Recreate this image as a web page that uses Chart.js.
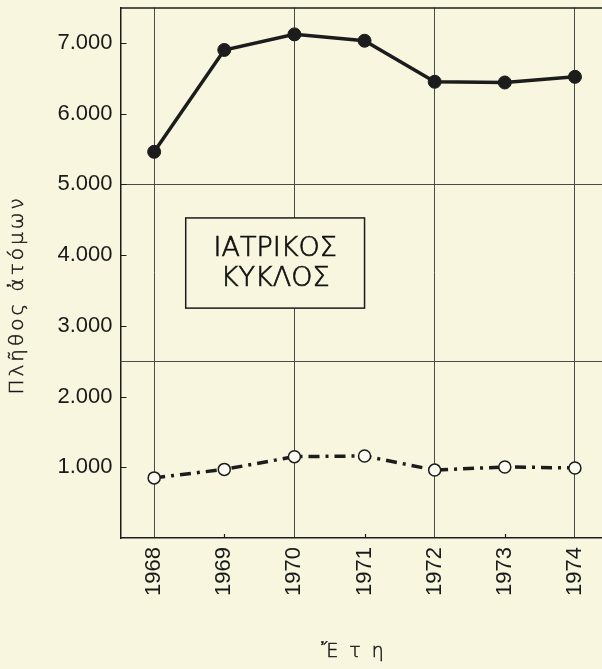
<!DOCTYPE html>
<html>
<head>
<meta charset="utf-8">
<script src="https://cdn.jsdelivr.net/npm/chart.js@4"></script>
<style>
html, body { margin: 0; padding: 0; background: #f8f6df; overflow: hidden; width: 602px; height: 669px; }
#wrap { position: absolute; left: 0; top: 0; width: 640px; height: 669px; }
</style>
</head>
<body>
<div id="wrap"><canvas id="c" width="640" height="669"></canvas></div>
<script>
// ---- data ----
const years = [1968, 1969, 1970, 1971, 1972, 1973, 1974];
const medicalCircle = [5460, 6900, 7120, 7030, 6450, 6440, 6520];
const lowerSeries = [850, 970, 1150, 1160, 960, 1005, 990];
const yTickValues = [1000, 2000, 3000, 4000, 5000, 6000, 7000];
const gridYears = [1968, 1970, 1972, 1974];
const gridValues = [2500, 5000];
const yTitle = 'Πλῆθος ἀτόμων';
const xTitle = 'Ἔτη';
const boxLines = ['ΙΑΤΡΙΚΟΣ', 'ΚΥΚΛΟΣ'];
const boxRange = { x0: 1968.45, x1: 1971.0, y0: 3250, y1: 4525 };

const BG = '#f8f6df';
const INK = '#1c1c1c';
const TEXT = '#1a1a1a';

const toPoints = arr => years.map((yr, i) => ({ x: yr, y: arr[i] }));

function letter(ctx, text, x, y, stroke) {
  ctx.fillText(text, x, y);
  ctx.lineWidth = stroke;
  ctx.strokeText(text, x, y);
}

const decor = {
  id: 'decor',
  beforeDatasetsDraw(chart) {
    const { ctx, chartArea: a, scales: { x, y } } = chart;
    ctx.save();
    // horizontal grid lines
    ctx.strokeStyle = '#4a4a4a';
    ctx.lineWidth = 1;
    gridValues.forEach(v => {
      const py = Math.round(y.getPixelForValue(v)) + 0.5;
      ctx.beginPath(); ctx.moveTo(a.left, py); ctx.lineTo(a.right, py); ctx.stroke();
    });
    // inward tick marks
    ctx.strokeStyle = INK;
    ctx.lineWidth = 1.2;
    ctx.beginPath();
    y.ticks.forEach(t => {
      const py = Math.round(y.getPixelForValue(t.value)) + 0.5;
      ctx.moveTo(a.left, py); ctx.lineTo(a.left + 6, py);
    });
    x.ticks.forEach(t => {
      if (gridYears.includes(t.value)) return;
      const px = Math.round(x.getPixelForValue(t.value)) + 0.5;
      ctx.moveTo(px, a.bottom); ctx.lineTo(px, a.bottom - 4);
    });
    ctx.stroke();
    // top border
    ctx.lineWidth = 1.3;
    ctx.beginPath(); ctx.moveTo(a.left, a.top + 0.5); ctx.lineTo(a.right, a.top + 0.5); ctx.stroke();
    // label box
    const bx0 = x.getPixelForValue(boxRange.x0), bx1 = x.getPixelForValue(boxRange.x1);
    const by0 = y.getPixelForValue(boxRange.y1), by1 = y.getPixelForValue(boxRange.y0);
    ctx.fillStyle = BG;
    ctx.fillRect(bx0, by0, bx1 - bx0, by1 - by0);
    ctx.lineWidth = 1.5;
    ctx.strokeStyle = INK;
    ctx.strokeRect(bx0, by0, bx1 - bx0, by1 - by0);
    ctx.fillStyle = '#111';
    ctx.strokeStyle = '#111';
    ctx.font = '200 27px "DejaVu Sans"';
    ctx.textAlign = 'center';
    ctx.textBaseline = 'middle';
    const cx = (bx0 + bx1) / 2, cy = (by0 + by1) / 2;
    letter(ctx, boxLines[0], cx, cy - 14, 0.7);
    letter(ctx, boxLines[1], cx, cy + 16, 0.7);
    ctx.restore();
  },
  afterDraw(chart) {
    const { ctx } = chart;
    ctx.save();
    ctx.fillStyle = '#1a1a1a';
    ctx.strokeStyle = '#1a1a1a';
    ctx.textAlign = 'center';
    ctx.textBaseline = 'middle';
    // y axis title
    ctx.font = '200 20px "DejaVu Sans"';
    if ('letterSpacing' in ctx) ctx.letterSpacing = '3px';
    ctx.translate(17.5, 295);
    ctx.rotate(-Math.PI / 2);
    letter(ctx, yTitle, 0, 0, 0.5);
    ctx.setTransform(1, 0, 0, 1, 0, 0);
    // x axis title
    ctx.font = '200 19px "DejaVu Sans"';
    if ('letterSpacing' in ctx) ctx.letterSpacing = '11px';
    letter(ctx, xTitle, 358, 652, 0.5);
    ctx.restore();
  }
};

new Chart(document.getElementById('c'), {
  type: 'line',
  data: {
    datasets: [
      {
        label: 'ΙΑΤΡΙΚΟΣ ΚΥΚΛΟΣ',
        data: toPoints(medicalCircle),
        borderColor: INK,
        borderWidth: 3.5,
        pointRadius: 6.5,
        pointBackgroundColor: INK,
        pointBorderColor: INK,
        pointBorderWidth: 1,
        tension: 0
      },
      {
        label: 'lower',
        data: toPoints(lowerSeries),
        borderColor: INK,
        borderWidth: 3.5,
        borderDash: [11, 6, 3, 6],
        pointRadius: 6,
        pointBackgroundColor: '#fcfbf2',
        pointBorderColor: INK,
        pointBorderWidth: 1.5,
        tension: 0
      }
    ]
  },
  options: {
    responsive: false,
    animation: false,
    devicePixelRatio: 1,
    layout: { padding: { top: 6, right: 30, bottom: 0, left: 0 } },
    plugins: { legend: { display: false }, tooltip: { enabled: false } },
    scales: {
      x: {
        type: 'linear',
        bounds: 'data',
        min: 1967.52,
        max: 1974.5,
        afterFit(s) { s.height = 131; s.paddingLeft = 0; s.paddingRight = 0; },
        afterBuildTicks(s) { s.ticks = years.map(v => ({ value: v })); },
        grid: {
          drawTicks: false,
          color: c => (c.tick && gridYears.includes(c.tick.value)) ? '#4a4a4a' : 'rgba(0,0,0,0)',
          lineWidth: 1
        },
        border: { display: true, color: INK, width: 1.5 },
        ticks: {
          autoSkip: false,
          minRotation: 90,
          maxRotation: 90,
          padding: 9,
          color: TEXT,
          font: { family: '"Liberation Sans", Arial, sans-serif', size: 22 },
          callback: v => String(v)
        }
      },
      y: {
        type: 'linear',
        bounds: 'data',
        min: 0,
        max: 7500,
        afterFit(s) { s.width = 120.5; s.paddingTop = 0; s.paddingBottom = 0; },
        afterBuildTicks(s) { s.ticks = yTickValues.map(v => ({ value: v })); },
        grid: { display: false, drawTicks: false },
        border: { display: true, color: INK, width: 1.5 },
        ticks: {
          padding: 8,
          color: TEXT,
          font: { family: '"Liberation Sans", Arial, sans-serif', size: 22 },
          callback: v => (v / 1000).toFixed(0) + '.000'
        }
      }
    }
  },
  plugins: [decor]
});
</script>
</body>
</html>
